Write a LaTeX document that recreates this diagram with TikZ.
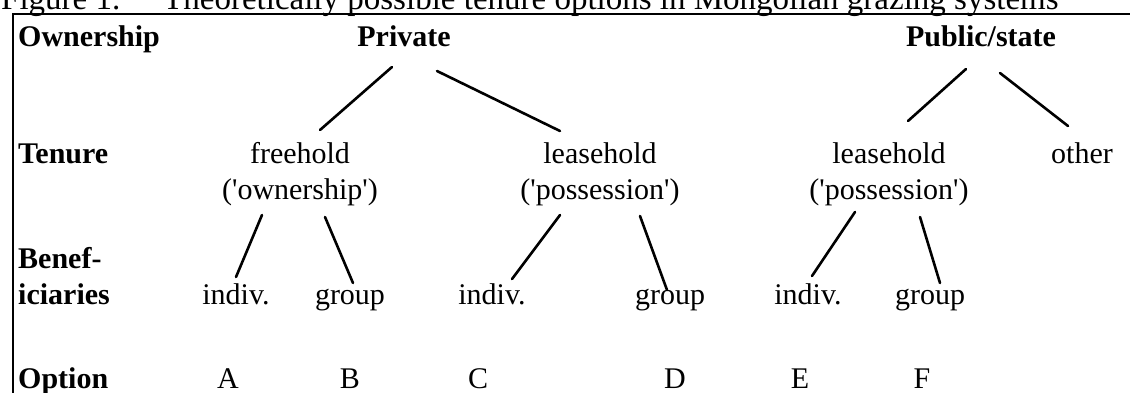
\documentclass[tikz,border=0pt]{standalone}
\usepackage{fontspec}
\setmainfont{Liberation Serif}
\usetikzlibrary{positioning, calc}

\begin{document}
\begin{tikzpicture}[x=1pt,y=-1pt,
          lab/.style={anchor=base west,inner sep=0pt,
                      font=\fontsize{30}{36}\selectfont\bfseries},
          head/.style={anchor=base,inner sep=0pt,
                       font=\fontsize{30}{36}\selectfont\bfseries},
          word/.style={anchor=base,inner sep=0pt,
                       font=\fontsize{30}{36}\selectfont},
          branch/.style={line width=2.6pt,line cap=round},
          frame/.style={line width=2pt}]
        \useasboundingbox (0,0) rectangle (1130,393);
        % caption, cut off at the top
        \node[anchor=base west,inner sep=0pt,font=\fontsize{33}{40}\selectfont]
          (fig) at (1,10) {Figure 1.};
        \node[anchor=base west,inner sep=0pt,font=\fontsize{33}{40}\selectfont]
          (title) at (163,10)
          {Theoretically possible tenure options in Mongolian grazing systems};
        \draw[frame] (13,393) |- (1130,14);
        % row labels
        \node[lab](own) at (18,47){Ownership};
        \node[lab](ten) at (18,164){Tenure};
        \node[lab](ben) at (18,268){Benef-};
        \node[lab](ici) at (18,304){iciaries};
        \node[lab](opt) at (18,388){Option};
        % ownership
        \node[head](priv) at (404,47){Private};
        \node[head](pub) at (981,47){Public/state};
        % tenure
        \node[word](free) at (300,164){freehold};
        \node[word](freeq) at (300,199){(\textquotesingle ownership\textquotesingle)};
        \node[word](lease) at (600,164){leasehold};
        \node[word](leaseq) at (600,199){(\textquotesingle possession\textquotesingle)};
        \node[word](plea) at (889,164){leasehold};
        \node[word](pleaq) at (889,199){(\textquotesingle possession\textquotesingle)};
        \node[word](other) at (1082,164){other};
        % beneficiaries and options
        \foreach \n/\x/\t in {1/236/indiv., 2/350/group, 3/492/indiv.,
                              4/670/group, 5/808/indiv., 6/930/group}
          \node[word](b\n) at (\x,304){\t};
        \foreach \n/\x/\t in {1/228/A, 2/350/B, 3/478/C, 4/675/D, 5/800/E, 6/922/F}
          \node[word](o\n) at (\x,388){\t};
        % branches
        \draw[branch]($(priv.base)+(-12,20)$)--($(free.base)+(20,-34)$);
        \draw[branch]($(priv.base)+(33,24)$)--($(lease.base)+(-40,-33)$);
        \draw[branch]($(pub.base)+(-15,22)$)--($(plea.base)+(19,-43)$);
        \draw[branch]($(pub.base)+(19,26)$)--($(other.base)+(-14,-38)$);
        \draw[branch]($(freeq.base)+(-38,16)$)--($(b1.base)+(0,-27)$);
        \draw[branch]($(freeq.base)+(25,18)$)--($(b2.base)+(3,-21)$);
        \draw[branch]($(leaseq.base)+(-40,16)$)--($(b3.base)+(20,-25)$);
        \draw[branch]($(leaseq.base)+(40,17)$)--($(b4.base)+(-3,-14)$);
        \draw[branch]($(pleaq.base)+(-34,13)$)--($(b5.base)+(4,-28)$);
        \draw[branch]($(pleaq.base)+(31,18)$)--($(b6.base)+(10,-21)$);
      \end{tikzpicture}
\end{document}
